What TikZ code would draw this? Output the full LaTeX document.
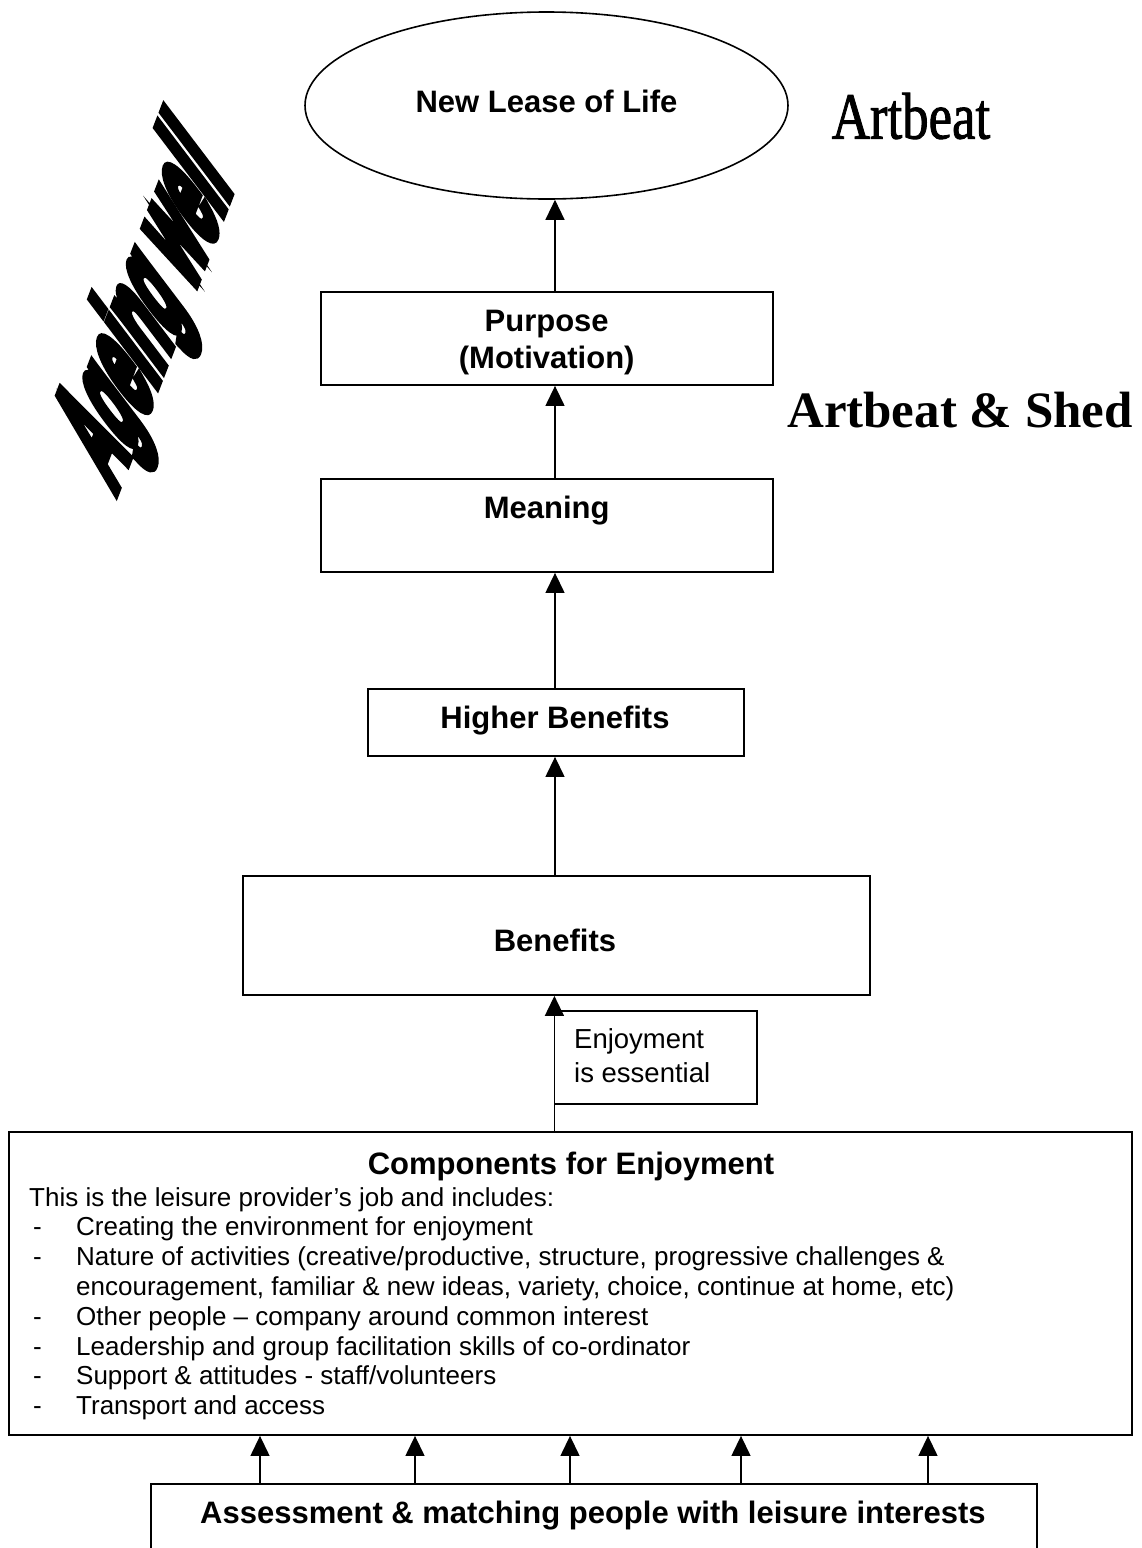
\documentclass[tikz,border=0pt]{standalone}
\usepackage{fontspec}
\usepackage{graphicx}
\setmainfont{Liberation Sans}
\newfontface\agefont[FakeBold=9]{Liberation Sans Bold}
\newfontface\artfont{Liberation Serif Bold}
\newfontface\artlight[FakeBold=1.5]{Liberation Serif}
\usetikzlibrary{arrows.meta,shapes.geometric}
\begin{document}
\begin{tikzpicture}[x=1pt,y=-1pt,
  box/.style={draw, line width=1.8pt, rectangle, inner sep=0pt},
  arr/.style={line width=1.3pt, -{Triangle[length=20pt,width=19pt]}},
  hd/.style={font=\fontsize{31}{36}\selectfont\bfseries, inner sep=0pt, anchor=base},
  bd/.style={font=\fontsize{26}{30}\selectfont, inner sep=0pt, anchor=base west},
  en/.style={font=\fontsize{27.5}{34}\selectfont, inner sep=0pt, anchor=base west},
  art/.style={inner sep=0pt}
]
\fill[white] (0,0) rectangle (1141,1548);
\useasboundingbox (0,0) rectangle (1141,1548);
\clip (0,0) rectangle (1141,1548);

% top ellipse
\node[draw, ellipse, line width=1.6pt, minimum width=483pt, minimum height=187pt, inner sep=0pt] (life) at (546.5,105.5) {};
\node[hd] (lifetxt) at (546.5,112.7) {New Lease of Life};

% boxes
\node[box, minimum width=452pt, minimum height=93pt] (purpose) at (546.7,338.5) {};
\node[hd] (purposetxt) at (546.7,331.7) {Purpose};
\node[hd] (motivtxt) at (546.7,368.3) {(Motivation)};

\node[box, minimum width=452pt, minimum height=93pt] (meaning) at (546.7,525.5) {};
\node[hd] (meaningtxt) at (546.7,518) {Meaning};

\node[box, minimum width=376pt, minimum height=67pt] (higher) at (556,722.5) {};
\node[hd] (highertxt) at (555,728) {Higher Benefits};

\node[box, minimum width=627pt, minimum height=119pt] (benefits) at (556.5,935.5) {};
\node[hd] (benefitstxt) at (555,951.7) {Benefits};

\node[box, line width=1.6pt, minimum width=202.4pt, minimum height=93pt] (enjoy) at (655.5,1057.5) {};
\node[en] (enjoy1) at (574,1048) {Enjoyment};
\node[en] (enjoy2) at (574,1082) {is essential};

\node[box, minimum width=1123pt, minimum height=303pt] (comp) at (570.5,1283.5) {};
\node[hd] (comptitle) at (571,1174) {Components for Enjoyment};
\node[bd] (c0) at (29,1206) {This is the leisure provider’s job and includes:};
\node[bd] (d1) at (33,1235.8) {-};
\node[bd] (c1) at (76,1235.8) {Creating the environment for enjoyment};
\node[bd] (d2) at (33,1265.6) {-};
\node[bd] (c2) at (76,1265.6) {Nature of activities (creative/productive, structure, progressive challenges \&};
\node[bd] (c3) at (76,1295.4) {encouragement, familiar \& new ideas, variety, choice, continue at home, etc)};
\node[bd] (d4) at (33,1325.2) {-};
\node[bd] (c4) at (76,1325.2) {Other people – company around common interest};
\node[bd] (d5) at (33,1355) {-};
\node[bd] (c5) at (76,1355) {Leadership and group facilitation skills of co-ordinator};
\node[bd] (d6) at (33,1384.8) {-};
\node[bd] (c6) at (76,1384.8) {Support \& attitudes - staff/volunteers};
\node[bd] (d7) at (33,1414.6) {-};
\node[bd] (c7) at (76,1414.6) {Transport and access};

\node[box, anchor=north, minimum width=886.4pt, minimum height=120pt] (assess) at (593.8,1483) {};
\node[hd] (assesstxt) at (593,1523) {Assessment \& matching people with leisure interests};

% connectors
\coordinate (ax) at (555,0);
\coordinate (bx) at (554.4,0);
\draw[arr] (purpose.north -| ax) -- (life.south -| ax);
\draw[arr] (meaning.north -| ax) -- (purpose.south -| ax);
\draw[arr] (higher.north -| ax) -- (meaning.south -| ax);
\draw[arr] (benefits.north -| ax) -- (higher.south -| ax);
\draw[arr] (comp.north -| bx) -- (benefits.south -| bx);
\coordinate (f1) at (260,0);
\coordinate (f2) at (415,0);
\coordinate (f3) at (570,0);
\coordinate (f4) at (741,0);
\coordinate (f5) at (928,0);
\foreach \i in {1,...,5} \draw[arr] (assess.north -| f\i) -- (comp.south -| f\i);

% word art
\begin{scope}[shift={(150,311)}, rotate=69, xslant=0.62, xscale=0.48]
\node[transform shape, inner sep=0pt, font=\agefont\fontsize{123}{123}\selectfont] (ageing) at (0,0) {Ageing well};
\end{scope}
\node[art, font=\artlight\fontsize{66}{66}\selectfont] (artbeat) at (911,116) {\scalebox{0.8}[1]{Artbeat}};
\node[art, font=\artfont\fontsize{51}{51}\selectfont] (artshed) at (960,410) {Artbeat \& Shed};
\end{tikzpicture}
\end{document}
